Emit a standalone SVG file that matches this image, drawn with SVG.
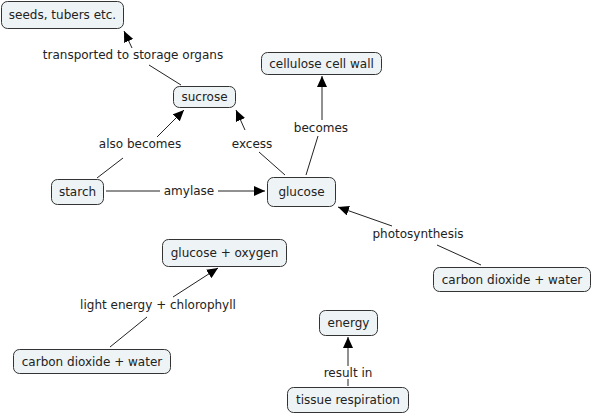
<svg xmlns="http://www.w3.org/2000/svg" width="592" height="416" viewBox="0 0 592 416">
<defs>
<style>
.node rect{fill:#eef3f5;stroke:#333;stroke-width:1}
text{font-family:"DejaVu Sans",Verdana,sans-serif;font-size:12px;fill:#222;text-anchor:middle}
.conn line{stroke:#222;stroke-width:1}
</style>
<marker id="arr" markerUnits="userSpaceOnUse" markerWidth="11" markerHeight="10" viewBox="0 0 11 10" refX="11" refY="5" orient="auto">
<path d="M0,0 L11,5 L0,10 z" fill="#000"/>
</marker>
</defs>
<rect width="592" height="416" fill="#fff"/>
<g id="connectors" class="conn">
<line x1="181" y1="85" x2="149" y2="65"/>
<line x1="132" y1="48" x2="124" y2="31" marker-end="url(#arr)"/>
<line x1="97" y1="178" x2="123" y2="158"/>
<line x1="157" y1="137" x2="184" y2="110" marker-end="url(#arr)"/>
<line x1="285" y1="175" x2="259" y2="152"/>
<line x1="245" y1="130" x2="236" y2="110" marker-end="url(#arr)"/>
<line x1="306" y1="175" x2="318" y2="136"/>
<line x1="322" y1="120" x2="322" y2="76" marker-end="url(#arr)"/>
<line x1="106" y1="191" x2="160" y2="191"/>
<line x1="218" y1="191" x2="265" y2="191" marker-end="url(#arr)"/>
<line x1="481" y1="265" x2="437" y2="245"/>
<line x1="392" y1="226" x2="338" y2="207" marker-end="url(#arr)"/>
<line x1="110" y1="347" x2="147" y2="317"/>
<line x1="173" y1="297" x2="218" y2="268" marker-end="url(#arr)"/>
<line x1="348" y1="386" x2="348" y2="379"/>
<line x1="348" y1="366" x2="348" y2="337" marker-end="url(#arr)"/>
<text x="133" y="59">transported to storage organs</text>
<text x="140" y="148">also becomes</text>
<text x="252" y="148">excess</text>
<text x="321" y="132">becomes</text>
<text x="189" y="195">amylase</text>
<text x="418" y="238">photosynthesis</text>
<text x="158" y="309">light energy + chlorophyll</text>
<text x="348" y="377">result in</text>
</g>
<g id="seeds" class="node"><rect x="1.5" y="1.5" width="122" height="27" rx="6"/><text x="62.5" y="19">seeds, tubers etc.</text></g>
<g id="sucrose" class="node"><rect x="173.5" y="86.5" width="62" height="21" rx="6"/><text x="204.5" y="101">sucrose</text></g>
<g id="cellulose" class="node"><rect x="261.5" y="52.5" width="120" height="22" rx="6"/><text x="321.5" y="68">cellulose cell wall</text></g>
<g id="glucose" class="node"><rect x="267.5" y="177.5" width="68" height="29" rx="6"/><text x="301.5" y="196">glucose</text></g>
<g id="starch" class="node"><rect x="51.5" y="179.5" width="52" height="25" rx="6"/><text x="77.5" y="196">starch</text></g>
<g id="co2water_right" class="node"><rect x="433.5" y="267.5" width="157" height="24" rx="6"/><text x="512" y="284">carbon dioxide + water</text></g>
<g id="glucose_oxygen" class="node"><rect x="162.5" y="239.5" width="124" height="27" rx="6"/><text x="224.5" y="257">glucose + oxygen</text></g>
<g id="co2water_left" class="node"><rect x="13.5" y="349.5" width="157" height="24" rx="6"/><text x="92" y="366">carbon dioxide + water</text></g>
<g id="energy" class="node"><rect x="319.5" y="310.5" width="58" height="25" rx="6"/><text x="348.5" y="327">energy</text></g>
<g id="tissue" class="node"><rect x="287.5" y="387.5" width="121" height="25" rx="6"/><text x="348" y="404">tissue respiration</text></g>
</svg>
